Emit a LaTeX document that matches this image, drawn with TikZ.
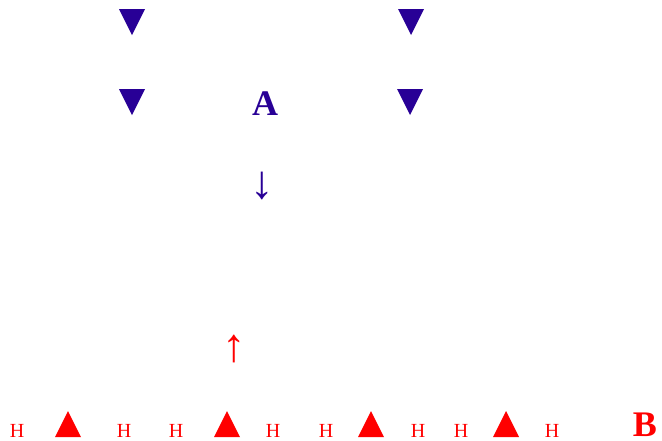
\documentclass[tikz,border=0pt]{standalone}
\usepackage{fontspec}
\setmainfont{Liberation Serif}
\usepackage{xcolor}
\usepackage{tikz}
\usetikzlibrary{positioning, calc}
\definecolor{ChargeBlue}{RGB}{40,0,150}
\definecolor{ChargeRed}{RGB}{255,0,0}
\tikzset{
    bigletter/.style={
        font=\fontsize{36}{36}\selectfont\bfseries, inner sep=0pt, anchor=base
    },
    hatom/.style={
        font=\fontsize{20}{20}\selectfont, inner sep=0pt, anchor=base, color=ChargeRed
    },
    fieldarrow/.style={
        font=\fontsize{47}{47}\selectfont, inner sep=0pt
    }
}

\begin{document}
\begin{tikzpicture}[x=1pt, y=-1pt,
            downtri/.style={fill=ChargeBlue},
            uptri/.style={fill=ChargeRed}
        ]
            \useasboundingbox (0,0) rectangle (662,440);

            % --- PLAQUE A (haut) ---
            \foreach \cx/\ty in {132/9, 411/9, 132/89, 410/89} {
                \fill[downtri] (\cx-13,\ty) -- (\cx+13,\ty) -- (\cx,\ty+26) -- cycle;
            }
            \node[bigletter, color=ChargeBlue] (A) at (265,115) {A};
            \node[fieldarrow, color=ChargeBlue] (downA) at (262,186) {↓};

            % --- PLAQUE B (bas) ---
            \foreach \cx in {68, 227, 371, 506} {
                \fill[uptri] (\cx-13,437) -- (\cx+13,437) -- (\cx,411) -- cycle;
            }
            \foreach \hx [count=\i] in {17, 124, 176, 273, 326, 418, 461, 552} {
                \node[hatom] (h\i) at (\hx,437) {H};
            }
            \node[bigletter, color=ChargeRed] (B) at (645,436) {B};
            \node[fieldarrow, color=ChargeRed] (upB) at (234,349) {↑};

        \end{tikzpicture}
\end{document}
